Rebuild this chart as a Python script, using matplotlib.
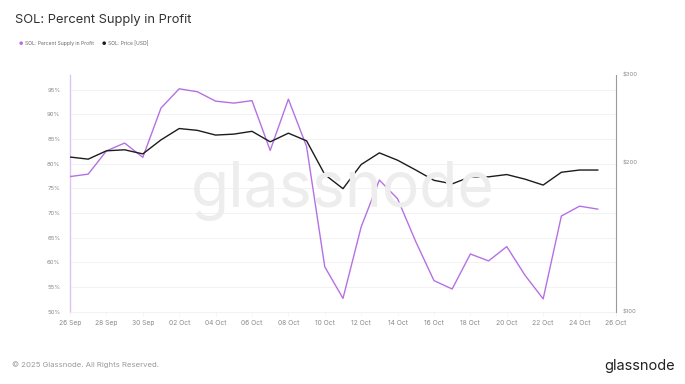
#!/usr/bin/env python3
"""SOL: Percent Supply in Profit vs SOL price (glassnode style)."""

import matplotlib
matplotlib.use("Agg")
import matplotlib.pyplot as plt
import matplotlib.dates as mdates
from matplotlib.ticker import FixedLocator, NullLocator
import pandas as pd

# ── Data ───────────────────────────────────────────────────────────────────
DATES = pd.date_range("2025-09-26", "2025-10-25", freq="D")

PCT_IN_PROFIT = [
    77.4, 77.9, 82.6, 84.2, 81.3, 91.3, 95.2, 94.6, 92.7, 92.3,
    92.8, 82.7, 93.1, 83.5, 59.1, 52.7, 67.2, 76.7, 72.9, 64.2,
    56.3, 54.6, 61.7, 60.3, 63.2, 57.4, 52.6, 69.4, 71.4, 70.8,
]

SOL_PRICE = [
    205, 203, 211, 212, 208, 222, 234, 232, 227, 228,
    231, 220, 229, 221, 189, 177, 198, 209, 202, 193,
    184, 181, 187, 187, 189, 185, 180, 191, 193, 193,
]

DATE_TICKS = pd.date_range("2025-09-26", "2025-10-26", freq="2D")
PCT_TICKS = [50, 55, 60, 65, 70, 75, 80, 85, 90, 95]
PRICE_TICKS = [100, 200, 300]

# ── Style ──────────────────────────────────────────────────────────────────
PURPLE = "#b571e3"
PURPLE_LIGHT = "#dcc3f3"
BLACK = "#1c1c1c"
GRID = "#f0f0f0"
TICK_TXT = "#8a8a8a"

plt.rcParams["font.family"] = ["Inter", "DejaVu Sans"]

fig = plt.figure(figsize=(6.85, 3.84), dpi=100)
ax = fig.add_axes([0.1022, 0.1883, 0.797, 0.6164])
ax2 = ax.twinx()

# watermark
fig.text(0.50, 0.505, "glassnode", fontsize=45, color="#ededed",
         ha="center", va="center", zorder=0)

ax.patch.set_alpha(0)
ax2.patch.set_alpha(0)

ax.plot(DATES, PCT_IN_PROFIT, color=PURPLE, linewidth=1.0, zorder=3)
ax2.plot(DATES, SOL_PRICE, color=BLACK, linewidth=1.0, zorder=3)

# ── Axes ───────────────────────────────────────────────────────────────────
ax.set_ylim(50, 98)
ax.yaxis.set_major_locator(FixedLocator(PCT_TICKS))
ax.set_yticklabels([f"{t}%" for t in PCT_TICKS])
ax.yaxis.grid(True, color=GRID, linewidth=0.6)
ax.set_axisbelow(True)

ax.set_xlim(DATE_TICKS[0], DATE_TICKS[-1])
ax.xaxis.set_major_locator(FixedLocator(mdates.date2num(DATE_TICKS)))
ax.xaxis.set_major_formatter(mdates.DateFormatter("%d %b"))

ax2.set_yscale("log")
ax2.set_ylim(100, 300)
ax2.yaxis.set_major_locator(FixedLocator(PRICE_TICKS))
ax2.yaxis.set_minor_locator(NullLocator())
ax2.set_yticklabels([f"${t}" for t in PRICE_TICKS])

ax.tick_params(axis="y", length=0, labelsize=4.3, labelcolor=TICK_TXT, pad=7)
ax.tick_params(axis="x", length=3, width=0.4, color="#eeeeee",
               labelsize=4.8, labelcolor=TICK_TXT, pad=3)
ax2.tick_params(axis="y", length=0, labelsize=4.3, labelcolor=TICK_TXT, pad=5)

for a in (ax, ax2):
    for s in a.spines.values():
        s.set_visible(False)
ax.spines["left"].set_visible(True)
ax.spines["left"].set_color(PURPLE_LIGHT)
ax.spines["left"].set_linewidth(1.0)
ax2.spines["right"].set_visible(True)
ax2.spines["right"].set_color("#9a9a9a")
ax2.spines["right"].set_linewidth(0.8)
ax.spines["bottom"].set_visible(True)
ax.spines["bottom"].set_color("#f0f0f0")
ax.spines["bottom"].set_linewidth(0.6)

# ── Title, legend, footer ──────────────────────────────────────────────────
fig.text(0.022, 0.948, "SOL: Percent Supply in Profit", fontsize=9.3,
         color="#333333", ha="left", va="center")

fig.text(0.030, 0.887, "\u25cf", fontsize=3.5, color=PURPLE, ha="center", va="center")
fig.text(0.036, 0.887, "SOL: Percent Supply in Profit", fontsize=3.6,
         color="#666666", ha="left", va="center")
fig.text(0.152, 0.887, "\u25cf", fontsize=3.5, color=BLACK, ha="center", va="center")
fig.text(0.158, 0.887, "SOL: Price [USD]", fontsize=3.6,
         color="#666666", ha="left", va="center")

fig.text(0.017, 0.050, "\u00a9 2025 Glassnode. All Rights Reserved.", fontsize=5.6,
         color="#9a9a9a", ha="left", va="center")
fig.text(0.985, 0.048, "glassnode", fontsize=10.5, color="#222222",
         ha="right", va="center")

fig.savefig("out.png", dpi=100)
plt.close(fig)
